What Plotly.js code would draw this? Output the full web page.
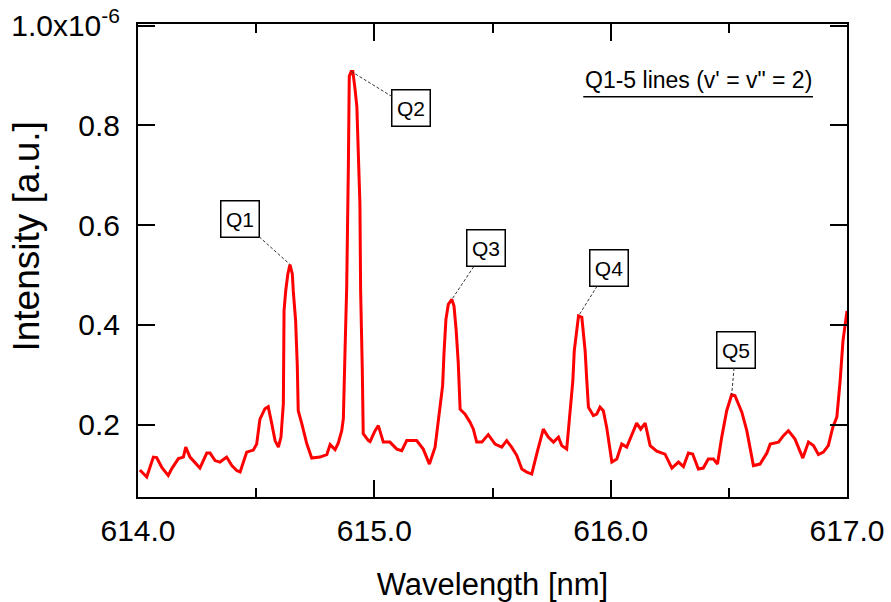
<!DOCTYPE html>
<html><head><meta charset="utf-8">
<script src="https://cdn.plot.ly/plotly-3.0.1.min.js"></script>
<style>html,body{margin:0;padding:0;background:#fff}#chart{width:891px;height:602px}</style>
</head><body><div id="chart"></div>
<script>
// Wavelength [nm]
const wavelength = [
614.008,614.037,614.065,614.079,614.100,614.128,614.143,614.171,614.192,614.202,
614.220,614.241,614.262,614.291,614.305,614.326,614.347,614.375,614.397,614.418,
614.432,614.460,614.488,614.502,614.516,614.537,614.551,614.566,614.580,614.594,
614.605,614.615,614.618,614.625,614.634,614.643,614.653,614.657,614.667,614.674,
614.678,614.693,614.714,614.735,614.770,614.799,614.813,614.834,614.848,614.862,
614.869,614.876,614.883,614.890,614.894,614.902,614.909,614.918,614.926,614.939,
614.942,614.949,614.953,614.975,614.982,615.003,615.017,615.038,615.066,615.095,
615.116,615.137,615.179,615.207,615.233,615.257,615.267,615.278,615.289,615.295,
615.303,615.313,615.328,615.337,615.346,615.355,615.363,615.384,615.405,615.419,
615.433,615.455,615.482,615.511,615.539,615.560,615.581,615.603,615.624,615.645,
615.666,615.687,615.715,615.736,615.758,615.779,615.793,615.814,615.821,615.829,
615.840,615.846,615.854,615.864,615.878,615.885,615.892,615.899,615.906,615.927,
615.941,615.955,615.969,615.983,616.005,616.026,616.047,616.068,616.089,616.110,
616.127,616.146,616.167,616.195,616.230,616.259,616.287,616.308,616.329,616.347,
616.371,616.392,616.413,616.435,616.452,616.470,616.491,616.512,616.526,616.555,
616.576,616.604,616.632,616.661,616.675,616.710,616.731,616.752,616.780,616.794,
616.813,616.837,616.858,616.879,616.900,616.921,616.940,616.957,616.971,616.983,
617.000
];
// Intensity [a.u.], in units of 1e-6
const intensity = [
0.109,0.095,0.135,0.134,0.115,0.098,0.112,0.132,0.135,0.155,
0.135,0.125,0.113,0.143,0.143,0.128,0.125,0.135,0.118,0.108,
0.105,0.145,0.149,0.161,0.211,0.232,0.236,0.202,0.168,0.155,
0.175,0.242,0.428,0.468,0.502,0.521,0.502,0.468,0.408,0.318,
0.228,0.202,0.162,0.133,0.135,0.140,0.160,0.150,0.164,0.188,
0.212,0.348,0.474,0.714,0.898,0.908,0.908,0.874,0.838,0.642,
0.468,0.312,0.182,0.168,0.166,0.188,0.198,0.165,0.165,0.151,
0.148,0.168,0.168,0.151,0.121,0.155,0.191,0.231,0.278,0.345,
0.411,0.441,0.451,0.438,0.391,0.325,0.231,0.221,0.205,0.191,
0.165,0.165,0.180,0.161,0.155,0.168,0.155,0.138,0.111,0.105,
0.101,0.141,0.191,0.175,0.165,0.175,0.158,0.151,0.191,0.228,
0.288,0.348,0.381,0.418,0.415,0.381,0.348,0.288,0.235,0.218,
0.221,0.235,0.228,0.195,0.125,0.131,0.161,0.155,0.181,0.203,
0.191,0.203,0.158,0.147,0.141,0.113,0.125,0.116,0.143,0.141,
0.111,0.113,0.131,0.131,0.121,0.175,0.228,0.260,0.258,0.225,
0.188,0.118,0.121,0.143,0.161,0.165,0.178,0.188,0.171,0.155,
0.133,0.165,0.158,0.140,0.145,0.158,0.195,0.215,0.288,0.368,
0.428
];
const xTickVals = [614, 615, 616, 617];
const xTickText = ['614.0', '615.0', '616.0', '617.0'];
const yTickVals = [0.2, 0.4, 0.6, 0.8, 1.0];
const yTickText = ['0.2', '0.4', '0.6', '0.8', '1.0x10<sup>-6</sup>'];
const peakNames = ['Q1', 'Q2', 'Q3', 'Q4', 'Q5'];
const peakWindows = [[614.6, 614.7], [614.85, 614.95], [615.25, 615.4], [615.8, 615.95], [616.45, 616.6]];
const legendText = "Q1-5 lines (v' = v\" = 2)";
const xTitle = 'Wavelength [nm]';
const yTitle = 'Intensity [a.u.]';

// label box offsets (pixels) – styling only
const labelOffsets = [[-50, -45], [60, 37], [34, -51], [30, -48], [4, -45]];

const FONT = '"Liberation Sans", Arial, Helvetica, sans-serif';

function peakOf(win) {
  let best = -1;
  for (let i = 0; i < wavelength.length; i++) {
    if (wavelength[i] >= win[0] && wavelength[i] <= win[1]) {
      if (best < 0 || intensity[i] > intensity[best]) best = i;
    }
  }
  return best;
}

const annotations = peakNames.map((name, k) => {
  const i = peakOf(peakWindows[k]);
  return {
    x: wavelength[i], y: intensity[i], xref: 'x', yref: 'y',
    text: name, showarrow: true, arrowhead: 0, arrowwidth: 1, arrowcolor: '#333',
    ax: labelOffsets[k][0], ay: labelOffsets[k][1], standoff: 2,
    bordercolor: '#000', borderwidth: 1.5, borderpad: 2, bgcolor: '#fff',
    width: 33, height: 31,
    font: {family: FONT, size: 21, color: '#000'}
  };
});
annotations.push({
  xref: 'paper', yref: 'paper', x: 0.79, y: 0.882, xanchor: 'center', yanchor: 'middle',
  text: legendText, showarrow: false, font: {family: FONT, size: 23, color: '#000'}
});
// y-axis title (placed as in the reference, slightly above the plot centre)
annotations.push({
  xref: 'paper', yref: 'paper', x: -0.157, y: 0.55, xanchor: 'center', yanchor: 'middle',
  text: yTitle, textangle: -90, showarrow: false, font: {family: FONT, size: 37, color: '#000'}
});

const trace = {
  x: wavelength, y: intensity, type: 'scatter', mode: 'lines',
  line: {color: '#ff0000', width: 3}, hoverinfo: 'skip', showlegend: false
};

const layout = {
  width: 891, height: 602,
  margin: {l: 138, r: 44, t: 24, b: 105},
  paper_bgcolor: '#fff', plot_bgcolor: '#fff',
  font: {family: FONT, color: '#000'},
  showlegend: false,
  xaxis: {
    range: [614, 617], tickmode: 'array', tickvals: xTickVals, ticktext: xTickText,
    ticks: 'inside', ticklen: 17, tickwidth: 2, tickcolor: '#000',
    showline: true, linewidth: 2, linecolor: '#000', mirror: 'ticks',
    showgrid: false, zeroline: false,
    minor: {tickmode: 'linear', tick0: 614, dtick: 0.5, ticks: 'inside', ticklen: 9, tickwidth: 2, tickcolor: '#000', showgrid: false},
    tickfont: {family: FONT, size: 30, color: '#000'}, ticklabelstandoff: 6,
    title: {text: xTitle, font: {family: FONT, size: 31, color: '#000'}}
  },
  yaxis: {
    range: [0.055, 1.003], tickmode: 'array', tickvals: yTickVals, ticktext: yTickText,
    ticks: 'inside', ticklen: 17, tickwidth: 2, tickcolor: '#000',
    showline: true, linewidth: 2, linecolor: '#000', mirror: 'ticks',
    showgrid: false, zeroline: false,
    tickfont: {family: FONT, size: 30, color: '#000'}, ticklabelstandoff: 10
  },
  annotations: annotations,
  shapes: [{type: 'line', xref: 'paper', yref: 'paper', x0: 0.628, x1: 0.952, y0: 0.846, y1: 0.846,
            line: {color: '#000', width: 1.5}}]
};

Plotly.newPlot('chart', [trace], layout, {staticPlot: true, displayModeBar: false}).then(() => {
  document.querySelectorAll('.annotation-arrow-g path').forEach(p => {
    p.style.strokeDasharray = '3,2';
  });
});
</script>
</body></html>
